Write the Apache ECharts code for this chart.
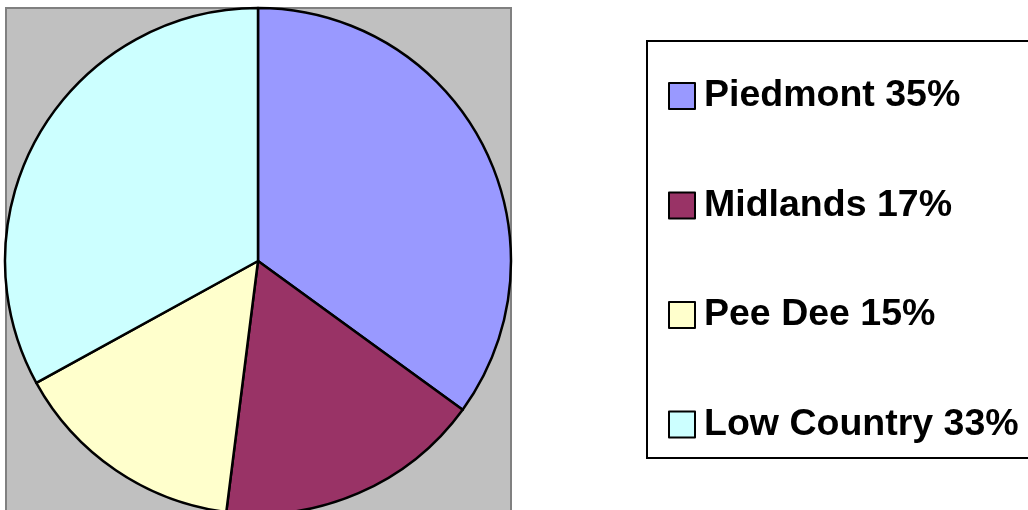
<!DOCTYPE html>
<html>
<head>
<meta charset="utf-8">
<script src="https://cdn.jsdelivr.net/npm/echarts@6/dist/echarts.min.js"></script>
<style>
html,body{margin:0;padding:0;background:#fff;}
#chart{width:1028px;height:510px;}
</style>
</head>
<body>
<div id="chart"></div>
<script>
const regions = ['Piedmont', 'Midlands', 'Pee Dee', 'Low Country'];
const shares = [35, 17, 15, 33];
const colors = ['#9999FF', '#993366', '#FFFFCC', '#CCFFFF'];

const chart = echarts.init(document.getElementById('chart'), null, {renderer: 'canvas'});
const data = regions.map((r, i) => ({
  name: r + ' ' + shares[i] + '%',
  value: shares[i],
  itemStyle: {color: colors[i]}
}));

chart.setOption({
  animation: false,
  backgroundColor: '#ffffff',
  graphic: [
    {
      type: 'rect', z: -10,
      shape: {x: 6, y: 8, width: 505, height: 510},
      style: {fill: '#C0C0C0', stroke: '#808080', lineWidth: 2}
    },
    {
      type: 'rect', z: -10,
      shape: {x: 647, y: 41, width: 400, height: 417},
      style: {fill: '#ffffff', stroke: '#000000', lineWidth: 2}
    }
  ],
  legend: {
    orient: 'vertical',
    left: 668,
    top: 76,
    padding: 0,
    itemWidth: 26,
    itemHeight: 26,
    itemGap: 69.5,
    icon: 'rect',
    itemStyle: {borderColor: '#000', borderWidth: 2},
    textStyle: {
      fontFamily: 'Liberation Sans, Arial, sans-serif',
      fontWeight: 'bold',
      fontSize: 37.5,
      color: '#000',
      lineHeight: 40,
      padding: [0, 0, 0, 4]
    },
    data: data.map(d => d.name)
  },
  series: [{
    type: 'pie',
    center: [258, 261],
    radius: 253,
    startAngle: 90,
    clockwise: true,
    label: {show: false},
    labelLine: {show: false},
    emphasis: {disabled: true},
    itemStyle: {borderColor: '#000', borderWidth: 2.5},
    data: data
  }]
});
</script>
</body>
</html>
